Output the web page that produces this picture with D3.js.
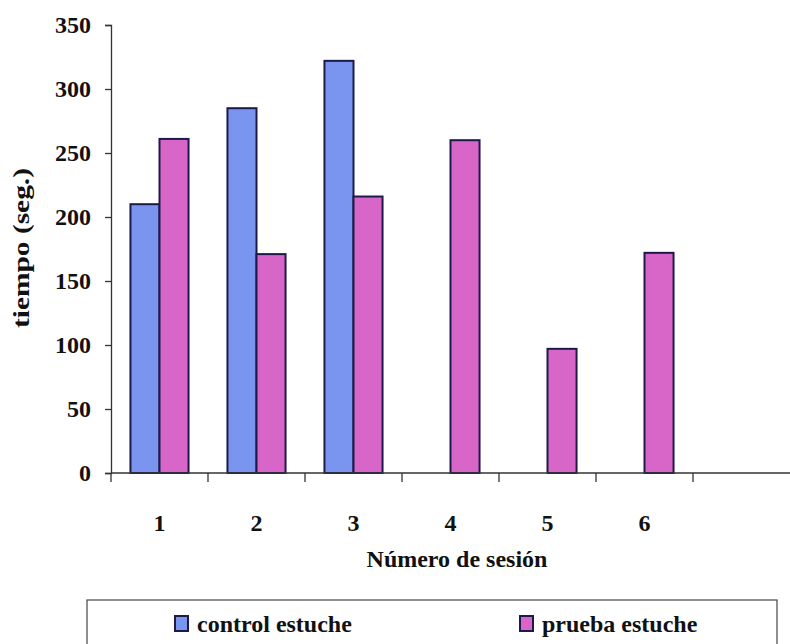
<!DOCTYPE html>
<html>
<head>
<meta charset="utf-8">
<script src="https://cdn.jsdelivr.net/npm/d3@7"></script>
<style>
  body { margin: 0; background: #fff; }
  svg { display: block; }
  text { font-family: "Liberation Serif", "Times New Roman", serif; font-weight: bold; fill: #111; }
</style>
</head>
<body>
<script>
const sessions = ['1', '2', '3', '4', '5', '6', ''];
const controlValues = [210, 285, 322, null, null, null, null];
const pruebaValues = [261, 171, 216, 260, 97, 172, null];
const seriesNames = ['control estuche', 'prueba estuche'];
const seriesColors = ['#7a95ef', '#d866c8'];
const yTicks = [0, 50, 100, 150, 200, 250, 300, 350];

const width = 790, height = 644;
const margin = {left: 111, right: 0, top: 25, bottom: 171};

const svg = d3.select('body').append('svg')
  .attr('width', width)
  .attr('height', height);

const x = d3.scaleBand()
  .domain(sessions.map((d, i) => i))
  .range([margin.left, width - margin.right])
  .paddingInner(0)
  .paddingOuter(0);

const xSub = d3.scaleBand()
  .domain([0, 1])
  .range([0, x.bandwidth()])
  .paddingInner(0)
  .paddingOuter(0.67);

const y = d3.scaleLinear()
  .domain([0, 350])
  .range([height - margin.bottom, margin.top]);

const rows = sessions.map((s, i) => ({i: i, vals: [controlValues[i], pruebaValues[i]]}));

// bars
const groups = svg.append('g').selectAll('g')
  .data(rows)
  .join('g')
  .attr('transform', d => `translate(${x(d.i)},0)`);

groups.selectAll('rect')
  .data(d => d.vals.map((v, k) => ({k: k, v: v})).filter(d => d.v != null))
  .join('rect')
  .attr('x', d => xSub(d.k))
  .attr('y', d => y(d.v))
  .attr('width', xSub.bandwidth())
  .attr('height', d => y(0) - y(d.v))
  .attr('fill', d => seriesColors[d.k])
  .attr('stroke', '#1d1a4a')
  .attr('stroke-width', 2);

// y axis
const yAxis = svg.append('g')
  .attr('transform', `translate(${margin.left},0)`)
  .call(d3.axisLeft(y).tickValues(yTicks).tickSize(6).tickPadding(14));
yAxis.select('.domain').attr('stroke', '#333').attr('stroke-width', 1.3);
yAxis.selectAll('.tick line').attr('stroke', '#333').attr('stroke-width', 1.3);
yAxis.selectAll('.tick text')
  .style('font-size', '24px')
  .attr('fill', '#111');

// x axis: ticks sit between categories
const xAxisG = svg.append('g')
  .attr('transform', `translate(0,${y(0)})`);
xAxisG.append('line')
  .attr('x1', margin.left).attr('x2', width)
  .attr('stroke', '#333').attr('stroke-width', 1.3);
xAxisG.selectAll('.xtick')
  .data(sessions.map((d, i) => i))
  .join('line')
  .attr('class', 'xtick')
  .attr('x1', d => x(d)).attr('x2', d => x(d))
  .attr('y1', 0).attr('y2', 9)
  .attr('stroke', '#333').attr('stroke-width', 1.3);
xAxisG.selectAll('.xlabel')
  .data(sessions)
  .join('text')
  .attr('class', 'xlabel')
  .attr('x', (d, i) => x(i) + x.bandwidth() / 2)
  .attr('y', 58)
  .attr('text-anchor', 'middle')
  .style('font-size', '24px')
  .text(d => d);

// axis titles
svg.append('text')
  .attr('x', 457)
  .attr('y', 567)
  .attr('text-anchor', 'middle')
  .style('font-size', '24px')
  .text('Número de sesión');

svg.append('text')
  .attr('transform', 'translate(29,248) rotate(-90)')
  .attr('text-anchor', 'middle')
  .style('font-size', '24px')
  .attr('textLength', 160)
  .attr('lengthAdjust', 'spacingAndGlyphs')
  .text('tiempo (seg.)');

// legend
const legend = svg.append('g');
legend.append('rect')
  .attr('x', 87).attr('y', 600)
  .attr('width', 690).attr('height', 70)
  .attr('fill', 'none')
  .attr('stroke', '#444')
  .attr('stroke-width', 1.2);

const legendX = [175, 520];
const items = legend.selectAll('.item')
  .data(seriesNames)
  .join('g')
  .attr('class', 'item')
  .attr('transform', (d, i) => `translate(${legendX[i]},616)`);
items.append('rect')
  .attr('width', 13).attr('height', 15)
  .attr('fill', (d, i) => seriesColors[i])
  .attr('stroke', '#1d1a4a')
  .attr('stroke-width', 2);
items.append('text')
  .attr('x', 22)
  .attr('y', 16)
  .style('font-size', '24px')
  .text(d => d);
</script>
</body>
</html>
